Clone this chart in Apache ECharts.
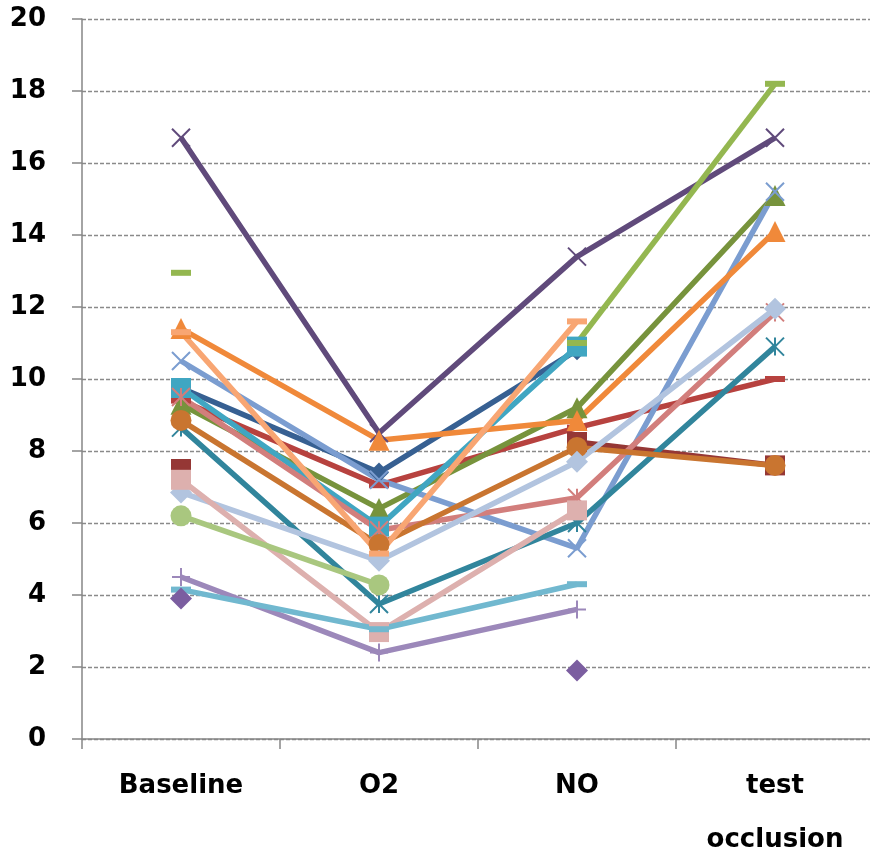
<!DOCTYPE html>
<html>
<head>
<meta charset="UTF-8">
<title>chart</title>
<script src="https://cdn.jsdelivr.net/npm/echarts@6/dist/echarts.min.js"></script>
<style>
  html, body { margin: 0; padding: 0; background: #fff; }
  #main { width: 870px; height: 859px; }
</style>
</head>
<body>
<div id="main"></div>
<script>
// categories and axis
const categories = ['Baseline', 'O2', 'NO', 'test\nocclusion'];
const yMin = 0, yMax = 20, yStep = 2;

// one array per subject: Baseline, O2, NO, test occlusion (null = no value)
const p01 = [9.75, 7.4, 10.8, null];
const p02 = [9.4, 7.05, 8.65, 10.0];
const p03 = [9.3, 6.4, 9.2, 15.1];
const p04 = [10.5, 7.2, 5.3, 15.2];
const p05 = [9.75, 5.9, 10.9, null];
const p06 = [7.5, null, 8.25, 7.6];
const p07 = [9.5, 5.8, 6.7, 11.85];
const p08 = [8.65, 3.75, 6.0, 10.9];
const p09 = [8.85, 5.4, 8.1, 7.6];
const p10 = [16.7, 8.5, 13.4, 16.7];
const p11 = [11.4, 8.3, 8.85, 14.1];
const p12 = [6.85, 4.95, 7.7, 11.95];
const p13 = [7.2, 2.97, 6.35, null];
const p14 = [6.2, 4.28, null, null];
const p15 = [4.5, 2.4, 3.6, null];
const p16 = [4.15, 3.05, 4.3, null];
const p17 = [3.9, null, 1.9, null];
const p18 = [12.95, null, 11.0, 18.2];
const p19 = [11.3, 5.15, 11.6, null];

// marker shapes
const X = 'path://M0,0L10,10M10,0L0,10';
const STAR = 'path://M0,0L10,10M10,0L0,10M5,0L5,10';
const PLUS = 'path://M5,0L5,10M0,5L10,5';
const DASH = 'rect';

// drawing order = order in this list (later on top)
const subjects = [
  { data: p01, color: '#376092', symbol: 'diamond', size: 20 },
  { data: p02, color: '#B7423F', symbol: DASH, size: [20, 6] },
  { data: p03, color: '#77933C', symbol: 'triangle', size: 21 },
  { data: p04, color: '#7B9DD0', symbol: X, size: 18 },
  { data: p05, color: '#40A6C2', symbol: 'rect', size: 20 },
  { data: p06, color: '#953735', symbol: 'rect', size: 20 },
  { data: p07, color: '#D27E7C', symbol: STAR, size: 18 },
  { data: p08, color: '#31859C', symbol: STAR, size: 18 },
  { data: p09, color: '#C97530', symbol: 'circle', size: 21 },
  { data: p10, color: '#604A7B', symbol: X, size: 18 },
  { data: p11, color: '#F0893A', symbol: 'triangle', size: 21 },
  { data: p12, color: '#B2C4DF', symbol: 'diamond', size: 22 },
  { data: p13, color: '#DDB0AE', symbol: 'rect', size: 20 },
  { data: p14, color: '#A9C77F', symbol: 'circle', size: 21 },
  { data: p15, color: '#9C88BA', symbol: PLUS, size: 18 },
  { data: p16, color: '#71B8CF', symbol: DASH, size: [20, 6] },
  { data: p17, color: '#7B5EA0', symbol: 'diamond', size: 22 },
  { data: p18, color: '#94B750', symbol: DASH, size: [20, 6] },
  { data: p19, color: '#F8A673', symbol: DASH, size: [20, 6] }
];

const isLine = s => s === X || s === STAR || s === PLUS;

const series = subjects.map((s, i) => ({
  name: 'S' + (i + 1),
  type: 'line',
  data: s.data.map(v => (v === null ? '-' : v)),
  connectNulls: false,
  symbol: s.symbol,
  symbolSize: s.size,
  showAllSymbol: true,
  lineStyle: { color: s.color, width: 5.5 },
  itemStyle: {
    color: s.color,
    borderColor: s.color,
    borderWidth: isLine(s.symbol) ? 2 : 0
  },
  emphasis: { disabled: true }
}));

const chart = echarts.init(document.getElementById('main'));
chart.setOption({
  animation: false,
  grid: { left: 82, right: -4, top: 19, bottom: 120, containLabel: false, outerBoundsMode: 'none' },
  xAxis: {
    type: 'category',
    data: categories,
    boundaryGap: true,
    axisLine: { lineStyle: { color: '#868686', width: 1.5 } },
    axisTick: { show: true, length: 10, lineStyle: { color: '#868686', width: 1.5 } },
    axisLabel: {
      color: '#000', fontSize: 26, fontWeight: 'bold', fontFamily: 'DejaVu Sans',
      lineHeight: 54, margin: 20, interval: 0
    },
    splitLine: { show: false }
  },
  yAxis: {
    type: 'value',
    min: yMin, max: yMax, interval: yStep,
    axisLine: { show: true, lineStyle: { color: '#868686', width: 1.5 } },
    axisTick: { show: true, length: 10, lineStyle: { color: '#868686', width: 1.5 } },
    axisLabel: {
      color: '#000', fontSize: 26, fontWeight: 'bold', fontFamily: 'DejaVu Sans', margin: 36
    },
    splitLine: { show: true, lineStyle: { color: '#8a8a8a', width: 1.3, type: [4, 2] } }
  },
  series: series
});
</script>
</body>
</html>
